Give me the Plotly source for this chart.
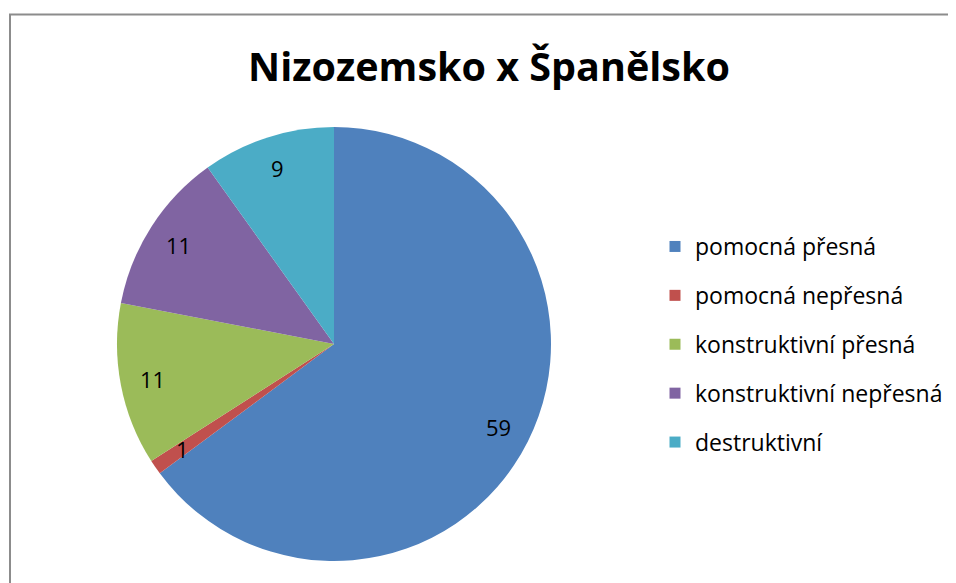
import numpy as np
import plotly.graph_objects as go

# chart data
labels = ["pomocná přesná", "pomocná nepřesná", "konstruktivní přesná",
          "konstruktivní nepřesná", "destruktivní"]
values = [59, 1, 11, 11, 9]
colors = ["#4F81BD", "#C0504D", "#9BBB59", "#8064A2", "#4BACC6"]
title = "Nizozemsko x Španělsko"

W, H = 956, 583
OFF = 8  # page body margin the browser adds round the figure
cx, cy, r = 334, 344, 217  # pie centre / radius in page pixels


def px_x(x):
    return (x - OFF) / W


def px_y(y):
    return 1 - (y - OFF) / H


fig = go.Figure()
fig.add_trace(go.Pie(
    labels=labels, values=values, sort=False, direction="clockwise",
    rotation=0, marker=dict(colors=colors), textinfo="none",
    hoverinfo="label+value", showlegend=False,
    domain=dict(x=[px_x(cx - r), px_x(cx + r)],
                y=[px_y(cy + r), px_y(cy - r)]),
))

# data labels at ~0.85 r, angle taken from the cumulative values
total = sum(values)
cum = np.cumsum([0] + values)
for i, v in enumerate(values):
    mid = (cum[i] + v / 2) / total * 2 * np.pi
    d = 0.85 * r
    fig.add_annotation(x=px_x(cx + d * np.sin(mid)), y=px_y(cy - d * np.cos(mid)),
                       xref="paper", yref="paper", xanchor="center", yanchor="middle",
                       text=str(v), showarrow=False,
                       font=dict(size=22, color="#000000"))

# legend built from dummy entries so the row spacing can match
for lab, col in zip(labels, colors):
    fig.add_trace(go.Scatter(
        x=[None], y=[None], mode="markers", name=lab, legendgroup=lab,
        marker=dict(symbol="square", size=11, color=col),
    ))

fig.add_shape(type="rect", xref="paper", yref="paper",
              x0=px_x(10), y0=-0.1, x1=1.1, y1=px_y(14.5),
              line=dict(color="#8c8c8c", width=2))

fig.update_layout(
    width=W, height=H,
    margin=dict(l=0, r=0, t=0, b=0),
    paper_bgcolor="white", plot_bgcolor="white",
    font=dict(family="Open Sans, sans-serif", color="#000000"),
    title=dict(text="<b>%s</b>" % title, x=px_x(489), xanchor="center",
               y=px_y(67), yanchor="middle",
               font=dict(size=39.5, color="#000000")),
    xaxis=dict(visible=False), yaxis=dict(visible=False),
    legend=dict(x=px_x(655), y=px_y(225), xanchor="left", yanchor="top",
                font=dict(size=23), tracegroupgap=16, traceorder="grouped",
                itemclick=False),
)

fig.write_html("out.html")
